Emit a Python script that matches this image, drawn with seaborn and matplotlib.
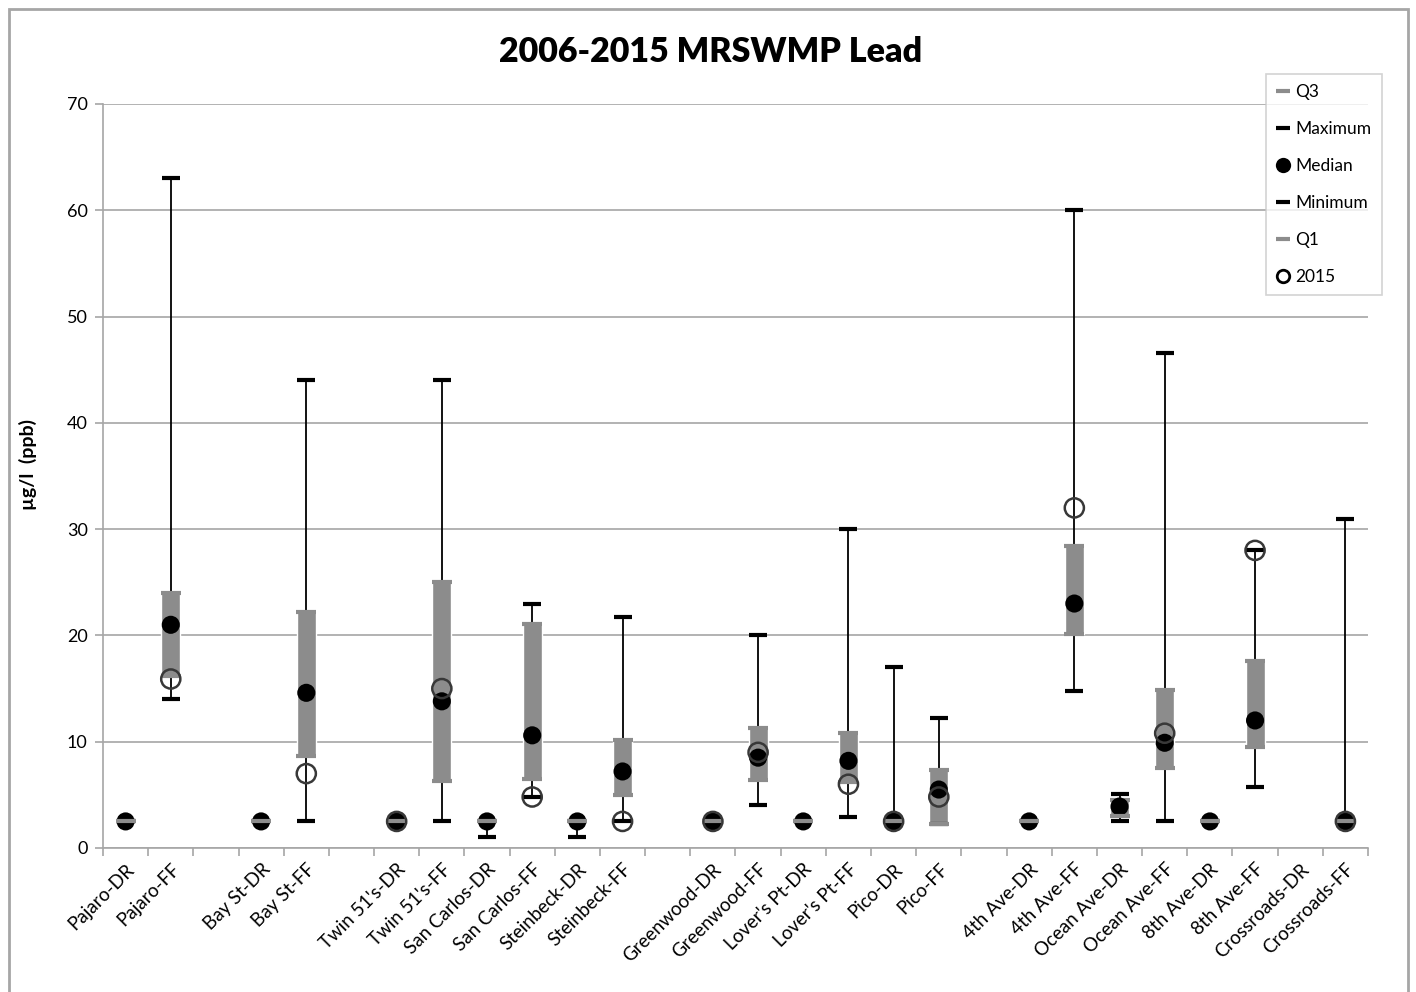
import numpy as np
import pandas as pd
import seaborn as sns
import matplotlib.pyplot as plt
from matplotlib.lines import Line2D
from matplotlib.patches import Rectangle

# one slot per site, blank slots separate the groups
sites = ['Pajaro-DR', 'Pajaro-FF', '', 'Bay St-DR', 'Bay St-FF', '',
         "Twin 51's-DR", "Twin 51's-FF", 'San Carlos-DR', 'San Carlos-FF',
         'Steinbeck-DR', 'Steinbeck-FF', '', 'Greenwood-DR', 'Greenwood-FF',
         "Lover's Pt-DR", "Lover's Pt-FF", 'Pico-DR', 'Pico-FF', '',
         '4th Ave-DR', '4th Ave-FF', 'Ocean Ave-DR', 'Ocean Ave-FF',
         '8th Ave-DR', '8th Ave-FF', 'Crossroads-DR', 'Crossroads-FF']
nan = np.nan
max_vals = [2.5, 63, nan, 2.5, 44, nan, 2.5, 44, 2.5, 23, 2.5, 21.7, nan,
            2.5, 20, 2.5, 30, 17, 12.2, nan, 2.5, 60, 5.1, 46.6, 2.5, 28, nan, 31]
q3_vals = [2.5, 24, nan, 2.5, 22.2, nan, 2.5, 25, 2.5, 21.1, 2.5, 10.2, nan,
           2.5, 11.3, 2.5, 10.8, 2.5, 7.3, nan, 2.5, 28.4, 4.5, 14.9, 2.5, 17.6, nan, 2.5]
median_vals = [2.5, 21, nan, 2.5, 14.6, nan, 2.5, 13.8, 2.5, 10.6, 2.5, 7.2, nan,
               2.5, 8.5, 2.5, 8.2, 2.5, 5.5, nan, 2.5, 23, 3.9, 9.9, 2.5, 12, nan, 2.5]
q1_vals = [2.5, 16.2, nan, 2.5, 8.7, nan, 2.5, 6.3, 2.5, 6.5, 2.5, 5.0, nan,
           2.5, 6.4, 2.5, 6.2, 2.5, 2.3, nan, 2.5, 20.1, 3.0, 7.5, 2.5, 9.5, nan, 2.5]
min_vals = [2.5, 14, nan, 2.5, 2.5, nan, 2.5, 2.5, 1.0, 4.8, 1.0, 2.5, nan,
            2.5, 4.0, 2.5, 2.9, 2.5, 2.3, nan, 2.5, 14.8, 2.5, 2.5, 2.5, 5.7, nan, 2.5]
y2015_vals = [nan, 15.9, nan, nan, 7.0, nan, 2.5, 15.0, nan, 4.8, nan, 2.5, nan,
              2.5, 9.0, nan, 6.0, 2.5, 4.8, nan, nan, 32, nan, 10.8, nan, 28, nan, 2.5]

df = pd.DataFrame({'site': sites, 'max': max_vals, 'q3': q3_vals,
                   'median': median_vals, 'q1': q1_vals, 'min': min_vals,
                   'y2015': y2015_vals})
df['pos'] = np.arange(len(df))

sns.set_theme(style='white')
plt.rcParams['font.family'] = ['Lato', 'DejaVu Sans']
plt.rcParams['text.color'] = 'black'
plt.rcParams['xtick.labelcolor'] = 'black'
plt.rcParams['ytick.labelcolor'] = 'black'
plt.rcParams['axes.labelcolor'] = 'black'

GRAY = '#8c8c8c'
AXGRAY = '#a6a6a6'

fig = plt.figure(figsize=(14.16, 9.92), dpi=100)
ax = fig.add_axes([103 / 1416, 1 - 848 / 992, 1265 / 1416, 744 / 992])

# outer chart frame
fig.patches.append(Rectangle((9 / 1416, -0.01), 1399 / 1416, 1 - 9 / 992 + 0.01,
                             transform=fig.transFigure, fill=False,
                             edgecolor=AXGRAY, linewidth=2))

# high-low line and the Q1-Q3 bar
ax.vlines(df['pos'], df['min'], df['max'], color='black', lw=1.3, zorder=2)
ax.bar(df['pos'], df['q3'] - df['q1'], bottom=df['q1'], width=0.42,
       color=GRAY, zorder=3)

sns.scatterplot(data=df, x='pos', y='q3', marker='_', s=190, linewidth=3,
                color=GRAY, ax=ax, zorder=4)
sns.scatterplot(data=df, x='pos', y='max', marker='_', s=150, linewidth=3,
                color='black', ax=ax, zorder=5)
sns.scatterplot(data=df, x='pos', y='median', marker='o', s=170,
                color='black', edgecolor='none', ax=ax, zorder=6)
sns.scatterplot(data=df, x='pos', y='min', marker='_', s=150, linewidth=3,
                color='black', ax=ax, zorder=5)
sns.scatterplot(data=df, x='pos', y='q1', marker='_', s=190, linewidth=3,
                color=GRAY, ax=ax, zorder=7)
sns.scatterplot(data=df, x='pos', y='y2015', marker='o', s=190,
                facecolors='none', edgecolor='#383838', linewidth=1.8,
                ax=ax, zorder=8)

ax.set_xlim(-0.5, len(df) - 0.5)
ax.set_ylim(0, 70)
ax.set_yticks(range(0, 71, 10))
ax.yaxis.grid(True, color=AXGRAY, linewidth=1.2)
ax.set_axisbelow(True)
for s in ['top', 'right']:
    ax.spines[s].set_visible(False)
for s in ['left', 'bottom']:
    ax.spines[s].set_color(AXGRAY)
    ax.spines[s].set_linewidth(1.2)

ax.set_xticks(df['pos'])
ax.set_xticklabels(df['site'], rotation=45, ha='right', rotation_mode='anchor',
                   fontsize=13.5)
ax.set_xticks(np.arange(-0.5, len(df), 1), minor=True)
ax.tick_params(axis='x', which='major', length=0, pad=9)
ax.tick_params(axis='x', which='minor', length=6, width=1.2, color=AXGRAY,
               bottom=True)
ax.tick_params(axis='y', length=6, width=1.2, color=AXGRAY, left=True,
               labelsize=13, pad=5)
ax.set_xlabel('')
ax.set_ylabel('µg/l  (ppb)', fontsize=14, fontweight='bold')
ax.yaxis.set_label_coords(-0.052, 0.515)

fig.text(0.502, 1 - 52 / 992, '2006-2015 MRSWMP Lead', ha='center', va='center',
         fontsize=24.5, fontweight='heavy')

handles = [
    Line2D([], [], color=GRAY, marker='_', ls='none', markersize=10, mew=3),
    Line2D([], [], color='black', marker='_', ls='none', markersize=10, mew=3),
    Line2D([], [], color='black', marker='o', ls='none', markersize=11, mec='none'),
    Line2D([], [], color='black', marker='_', ls='none', markersize=10, mew=3),
    Line2D([], [], color=GRAY, marker='_', ls='none', markersize=10, mew=3),
    Line2D([], [], color='black', marker='o', ls='none', markersize=9, mfc='none',
           mew=2),
]
labels = ['Q3', 'Maximum', 'Median', 'Minimum', 'Q1', '2015']
leg = ax.legend(handles, labels, loc='upper right',
                bbox_to_anchor=(1382 / 1416, 1 - 74 / 992),
                bbox_transform=fig.transFigure, borderaxespad=0,
                frameon=True, fancybox=False, fontsize=12.5, handlelength=0.8,
                handletextpad=0.3, labelspacing=1.2, borderpad=0.6)
leg.get_frame().set_edgecolor('#c8c8c8')
leg.get_frame().set_linewidth(1.2)

fig.savefig('out.png', dpi=100)
